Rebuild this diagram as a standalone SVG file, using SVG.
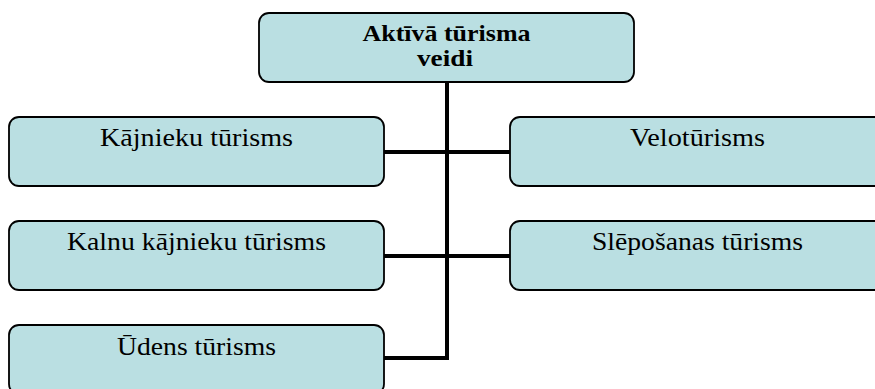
<svg xmlns="http://www.w3.org/2000/svg" width="875" height="389" viewBox="0 0 875 389">
<style>
.box{fill:#BADFE2;stroke:#000;stroke-width:1.8}
.t{font-family:"Liberation Serif","Times New Roman",serif;font-size:25px;fill:#000;text-anchor:middle}
.b{font-weight:bold;font-size:24px}
.c{fill:none;stroke:#000;stroke-width:4}
</style>
<rect width="875" height="389" fill="#fff"/>
<g id="connectors">
<path class="c" d="M447 82 V358 H384"/>
<path class="c" d="M384 152 H510"/>
<path class="c" d="M384 256 H510"/>
</g>
<g id="root">
<rect class="box" x="259" y="13" width="375" height="69" rx="10"/>
<text class="t b" x="446.5" y="41" textLength="168" lengthAdjust="spacingAndGlyphs">Aktīvā tūrisma</text>
<text class="t b" x="445" y="66" textLength="56" lengthAdjust="spacingAndGlyphs">veidi</text>
</g>
<g id="n1">
<rect class="box" x="9" y="117" width="375" height="69" rx="10"/>
<text class="t" x="196.5" y="146" textLength="193" lengthAdjust="spacingAndGlyphs">Kājnieku tūrisms</text>
</g>
<g id="n2">
<rect class="box" x="510" y="117" width="375" height="69" rx="10"/>
<text class="t" x="697.5" y="146" textLength="135" lengthAdjust="spacingAndGlyphs">Velotūrisms</text>
</g>
<g id="n3">
<rect class="box" x="9" y="221" width="375" height="69" rx="10"/>
<text class="t" x="196.5" y="250" textLength="259" lengthAdjust="spacingAndGlyphs">Kalnu kājnieku tūrisms</text>
</g>
<g id="n4">
<rect class="box" x="510" y="221" width="375" height="69" rx="10"/>
<text class="t" x="697.5" y="250" textLength="211" lengthAdjust="spacingAndGlyphs">Slēpošanas tūrisms</text>
</g>
<g id="n5">
<rect class="box" x="9" y="325" width="375" height="69" rx="10"/>
<text class="t" x="196.5" y="355" textLength="159" lengthAdjust="spacingAndGlyphs">Ūdens tūrisms</text>
</g>
</svg>
